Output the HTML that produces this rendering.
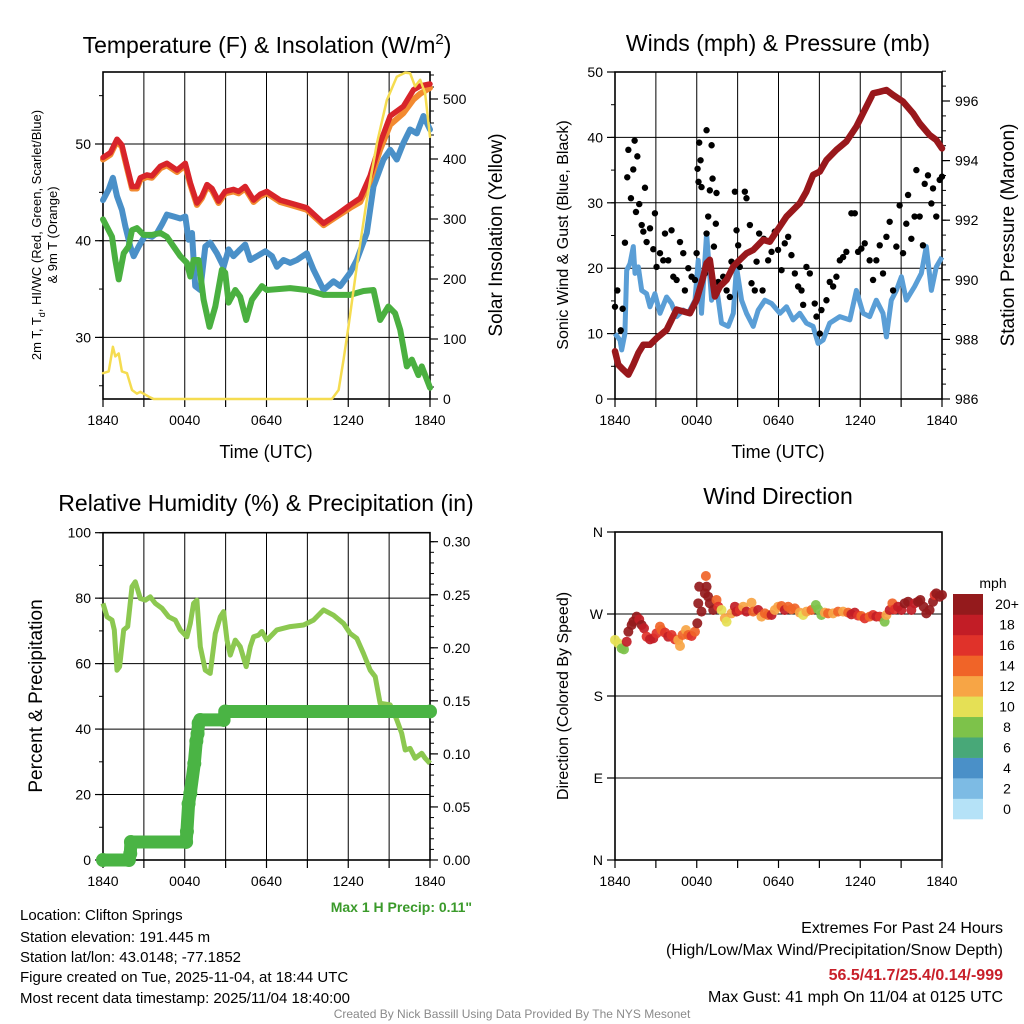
<!DOCTYPE html>
<html><head><meta charset="utf-8"><style>
html,body{margin:0;padding:0;background:#fff;}
svg{display:block;font-family:"Liberation Sans",Arial,sans-serif;}
</style></head><body>
<svg id="fig" width="1024" height="1024" viewBox="0 0 1024 1024" xmlns="http://www.w3.org/2000/svg">
<rect width="1024" height="1024" fill="#fff"/>
<g id="g1"></g>
<g id="g2"></g>
<g id="g3"></g>
<g id="g4"></g>
<g id="txt">
<text x="267" y="53" font-size="23" text-anchor="middle">Temperature (F) &amp; Insolation (W/m<tspan dy="-9" font-size="15">2</tspan><tspan dy="9">)</tspan></text>
<text x="778" y="51" font-size="23" text-anchor="middle">Winds (mph) &amp; Pressure (mb)</text>
<text x="266" y="511" font-size="23" text-anchor="middle">Relative Humidity (%) &amp; Precipitation (in)</text>
<text x="778" y="504" font-size="23" text-anchor="middle">Wind Direction</text>
<text x="266" y="458" font-size="18" text-anchor="middle">Time (UTC)</text>
<text x="778" y="458" font-size="18" text-anchor="middle">Time (UTC)</text>
<text transform="translate(41,235) rotate(-90)" font-size="13" text-anchor="middle">2m T, T<tspan dy="4" font-size="9">d</tspan><tspan dy="-4">, HI/WC (Red, Green, Scarlet/Blue)</tspan></text>
<text transform="translate(57,235) rotate(-90)" font-size="13" text-anchor="middle">&amp; 9m T (Orange)</text>
<text transform="translate(502,235) rotate(-90)" font-size="19" text-anchor="middle">Solar Insolation (Yellow)</text>
<text transform="translate(568,235) rotate(-90)" font-size="16" text-anchor="middle">Sonic Wind &amp; Gust (Blue, Black)</text>
<text transform="translate(1014,235) rotate(-90)" font-size="19" text-anchor="middle">Station Pressure (Maroon)</text>
<text transform="translate(42,696) rotate(-90)" font-size="19" text-anchor="middle">Percent &amp; Precipitation</text>
<text transform="translate(568,696) rotate(-90)" font-size="16" text-anchor="middle">Direction (Colored By Speed)</text>
<text x="472" y="912" font-size="14" font-weight="bold" fill="#3a9a2a" text-anchor="end">Max 1 H Precip: 0.11"</text>
<text x="993" y="588" font-size="14" text-anchor="middle">mph</text>
<g font-size="15">
<text x="20" y="920">Location: Clifton Springs</text>
<text x="20" y="942">Station elevation: 191.445 m</text>
<text x="20" y="962">Station lat/lon: 43.0148; -77.1852</text>
<text x="20" y="982">Figure created on Tue, 2025-11-04, at 18:44 UTC</text>
<text x="20" y="1003">Most recent data timestamp: 2025/11/04 18:40:00</text>
</g>
<g font-size="16" text-anchor="end">
<text x="1003" y="933">Extremes For Past 24 Hours</text>
<text x="1003" y="955">(High/Low/Max Wind/Precipitation/Snow Depth)</text>
<text x="1003" y="980" fill="#c8202a" font-weight="bold">56.5/41.7/25.4/0.14/-999</text>
<text x="1003" y="1002">Max Gust: 41 mph On 11/04 at 0125 UTC</text>
</g>
<text x="512" y="1018" font-size="12" fill="#8a8a8a" text-anchor="middle">Created By Nick Bassill Using Data Provided By The NYS Mesonet</text>
</g>
</svg>
<script>
// ---- Data (hours since 1840 UTC) ----
const xTickLabels = ["1840","0040","0640","1240","1840"];
const tempHours = [0,.54,1.03,1.39,1.76,2.13,2.49,2.74,3.23,3.59,4.21,4.69,5.43,6.04,6.41,6.89,7.26,7.63,8.0,8.48,8.97,9.58,9.95,10.44,11.05,11.54,12.03,13.0,13.74,14.96,16.19,17.16,18.14,18.88,19.6,20.34,21.08,22.05,22.79,23.28,24];
const tempValues = [48.6,49.1,50.5,49.9,47.7,45.6,45.6,46.5,46.8,46.7,47.7,48.0,47.3,48.0,46.0,43.9,44.6,45.8,45.4,44.1,45.1,45.3,45.1,45.6,44.2,44.8,45.1,44.2,43.9,43.4,41.8,42.7,43.7,44.4,46.7,50.1,52.9,53.9,55.6,56.0,56.2];
const temp9mValues = [48.4,48.9,50.3,49.7,47.5,45.4,45.4,46.3,46.6,46.5,47.5,47.8,47.1,47.8,45.8,43.7,44.4,45.6,45.2,43.9,44.9,45.1,44.9,45.4,44.0,44.6,44.9,44.0,43.7,43.2,41.6,42.5,43.4,44.0,46.2,49.4,52.0,53.2,54.6,55.2,55.8];
const wcHours = [0,.42,.73,1.03,1.39,1.64,2.0,2.25,2.62,3.11,3.59,3.96,4.33,4.69,5.18,5.67,6.04,6.28,6.53,6.77,7.14,7.51,7.87,8.36,8.85,9.22,9.58,10.07,10.44,10.81,11.3,11.91,12.4,12.76,13.25,13.74,14.23,14.96,15.45,16.19,16.92,17.41,18.14,18.63,19.36,19.85,20.59,21.08,21.56,22.05,22.54,23.03,23.52,24];
const wcValues = [44.2,45.3,46.5,44.6,43.2,41.5,39.4,38.4,39.4,40.6,40.4,40.8,41.7,42.7,42.5,42.3,42.5,40.1,40.8,35.3,34.9,39.4,39.8,38.7,37.3,39.1,38.4,39.1,39.6,38.0,38.4,38.9,38.4,37.3,38.0,37.7,38.0,38.7,37.0,34.9,35.8,35.3,36.7,38.0,40.8,45.6,48.4,49.4,48.4,50.1,51.5,51.1,52.9,51.5];
const dewHours = [0,.66,.9,1.15,1.52,1.88,2.13,2.49,2.98,3.59,4.21,4.69,5.18,5.67,6.16,6.41,6.65,7.02,7.38,7.82,8.24,8.73,8.97,9.22,9.71,10.07,10.51,10.93,11.66,12.03,13.74,14.96,16.19,18.14,19.12,19.85,20.34,20.95,21.44,21.81,22.3,22.67,23.15,23.4,24];
const dewValues = [42.2,40.4,38.0,36.0,38.7,39.4,41.1,41.3,40.6,40.6,40.8,40.4,39.4,38.4,37.7,36.3,38.0,38.0,33.9,31.1,33.2,37.0,36.7,33.6,34.9,34.2,31.8,33.9,35.3,34.9,35.1,34.9,34.4,34.4,34.8,34.9,31.8,33.2,32.5,30.8,27.0,27.7,26.1,27.0,24.8];
const solarHours = [0,.42,.73,.9,1.15,1.39,1.76,2.13,2.49,2.74,3.35,3.72,16.8,17.29,17.65,18.02,18.63,19.36,20.1,20.83,21.56,22.18,22.54,22.91,23.28,23.64,24];
const solarValues = [43,46,87,71,76,46,43,15,9,12,4,0,0,15,65,121,221,332,426,498,537,544,543,521,532,510,437];
const tempTicks = [30,40,50];
const solarTicks = [0,100,200,300,400,500];

const windHours = [0,.37,.49,.73,.86,1.1,1.34,1.47,1.71,1.96,2.32,2.57,2.93,3.3,3.79,4.15,4.52,5.01,5.38,5.87,6.11,6.35,6.72,7.09,7.45,7.82,8.31,8.68,8.92,9.29,9.65,10.14,10.51,11.0,11.49,12.1,12.59,13.07,13.56,14.05,14.54,14.91,15.27,15.76,16.5,17.23,17.72,18.21,18.69,19.18,19.67,19.92,20.28,20.65,21.02,21.38,21.99,22.48,22.85,23.22,23.58,24];
const windValues = [10.0,9.0,7.5,10.0,19.7,20.7,23.3,19.2,20.2,16.6,16.1,14.1,16.1,13.1,15.6,14.6,12.6,13.6,13.1,15.1,21.2,13.1,25.3,15.1,17.2,11.6,11.1,13.1,20.2,15.1,13.1,11.1,13.6,15.1,14.6,13.1,14.1,12.1,13.1,11.6,11.1,8.5,9.0,11.6,12.6,12.1,16.6,13.1,12.6,15.1,13.1,9.5,15.1,16.6,18.7,15.1,17.2,19.2,23.3,16.6,20.2,21.7];
const gustHours = [0,.17,.42,.56,.73,.9,.98,1.17,1.34,1.44,1.54,1.64,1.78,1.96,2.08,2.2,2.32,2.57,2.81,2.93,3.05,3.3,3.54,3.67,3.91,4.15,4.28,4.52,4.77,5.01,5.13,5.38,5.62,5.87,5.99,6.06,6.13,6.18,6.28,6.35,6.6,6.72,6.72,6.84,6.96,7.09,7.16,7.26,7.4,7.45,7.58,7.94,8.19,8.43,8.55,8.8,8.92,9.04,9.16,9.53,9.65,9.9,10.02,10.26,10.39,10.58,10.83,10.92,11.24,11.49,11.73,11.97,12.22,12.46,12.71,12.95,13.2,13.44,13.69,13.81,14.05,14.3,14.66,14.79,15.03,15.15,15.52,15.76,16.01,16.25,16.5,16.74,16.98,17.35,17.6,17.84,18.08,18.33,18.69,18.94,19.18,19.43,19.67,19.92,20.16,20.41,20.65,20.89,21.14,21.38,21.51,21.75,21.99,22.12,22.36,22.6,22.73,22.97,23.22,23.34,23.58,23.83,24];
const gustValues = [14.1,16.6,10.5,13.8,23.9,33.9,38.1,30.7,35.1,39.5,28.6,37.1,29.8,26.6,25.6,32.3,24.0,26.1,22.9,28.4,20.2,22.3,21.2,25.3,21.2,25.8,18.7,18.2,24.0,22.3,16.6,20.0,18.7,18.2,22.3,35.2,33.2,39.2,36.5,32.4,19.2,41.1,25.3,27.9,31.9,38.8,33.7,23.3,26.8,31.5,17.9,18.7,16.6,15.6,21.0,31.7,25.8,23.5,20.2,31.7,30.7,26.6,17.7,16.6,21.0,25.3,16.6,24.5,21.2,22.5,25.6,22.8,19.7,23.8,24.8,22.0,19.2,17.2,16.6,14.4,20.2,19.2,14.6,12.6,10.0,13.6,15.1,17.9,17.2,18.7,21.2,21.7,22.5,28.4,28.4,22.5,23.0,23.8,21.2,18.2,21.2,23.5,19.2,24.8,27.1,16.6,23.3,29.6,22.3,26.8,31.2,24.5,27.9,35.0,27.9,23.5,32.9,34.2,29.9,32.2,27.9,33.5,34.0];
const presHours = [0,.24,.61,.98,1.34,1.71,2.08,2.57,3.05,3.79,4.52,5.5,5.99,6.48,6.72,6.96,7.33,7.7,8.19,8.68,9.16,9.65,10.14,10.87,11.36,11.85,12.59,13.56,14.05,14.54,15.03,15.52,16.25,16.98,17.72,18.21,18.94,19.43,19.92,20.41,21.14,21.87,22.36,23.09,23.58,24];
const presValues = [987.6,987.15,986.98,986.82,987.15,987.54,987.82,987.82,988.04,988.32,989.0,988.88,989.33,990.11,990.56,990.67,989.44,989.78,990.0,990.45,990.67,990.89,991.0,991.34,991.28,991.62,992.12,992.57,992.96,993.52,993.63,994.02,994.36,994.64,995.14,995.59,996.26,996.31,996.37,996.2,995.98,995.59,995.25,994.86,994.69,994.41];
const windTicks = [0,10,20,30,40,50];
const presTicks = [986,988,990,992,994,996];

const rhHours = [0,.29,.66,.83,1.03,1.22,1.52,1.81,2.13,2.37,2.74,3.11,3.47,3.84,4.33,4.82,5.31,5.67,6.16,6.41,6.65,6.89,7.14,7.51,7.87,8.24,8.61,8.85,9.1,9.34,9.71,10.07,10.51,10.81,11.05,11.42,11.66,12.03,12.76,13.74,14.72,15.45,16.19,16.92,17.65,18.14,18.63,19.12,19.61,19.98,20.34,21.08,21.56,21.92,22.18,22.54,22.91,23.4,23.64,24];
const rhValues = [78.4,74.3,73.3,70.3,58.0,59.1,70.3,71.3,83.5,85.0,79.9,79.4,80.4,78.4,76.9,74.3,73.3,70.3,68.2,72.3,78.4,79.4,65.2,58.0,57.0,69.2,74.3,75.9,67.2,62.6,67.2,65.2,59.1,65.2,68.2,68.7,69.8,67.2,70.3,71.3,71.8,73.3,76.4,74.8,72.3,69.2,67.7,63.1,58.0,56.0,47.9,47.4,42.8,38.7,33.6,34.1,31.1,32.6,31.1,29.5];
const precipHours = [0,1.9,2.0,2.05,6.1,6.16,6.28,6.41,6.7,6.85,6.94,7.02,7.14,8.85,8.97,24];
const precipValues = [0,0,.006,.017,.017,.027,.053,.063,.091,.112,.119,.129,.132,.132,.14,.14];
const rhTicks = [0,20,40,60,80,100];
const precipTicks = ["0.00","0.05","0.10","0.15","0.20","0.25","0.30"];

const dirHours = [0,.24,.49,.66,.86,.98,1.22,1.34,1.59,1.78,1.96,2.13,2.32,2.57,2.81,3.05,3.3,3.42,3.67,3.91,4.15,4.4,4.64,4.77,4.96,5.21,5.38,5.62,5.87,6.04,6.11,6.18,6.35,6.6,6.72,6.67,6.84,6.96,7.21,7.45,7.58,7.82,8.06,8.19,8.55,8.8,8.92,9.16,9.41,9.65,10.02,10.14,10.51,10.75,11.0,11.24,11.49,11.73,11.97,12.22,12.46,12.71,12.95,13.2,13.56,13.81,14.05,14.42,14.74,14.91,15.15,15.4,15.64,16.01,16.37,16.74,17.11,17.35,17.6,17.84,18.08,18.33,18.69,18.94,19.18,19.43,19.79,19.92,20.16,20.36,20.53,20.77,21.02,21.26,21.51,21.75,21.99,22.24,22.41,22.65,22.85,23.09,23.34,23.46,23.58,23.83,24];
const dirValues = [241.5,237.8,232.3,231.2,239.6,250.6,257.9,261.6,267.1,264.1,257.9,254.3,245.1,242.2,243.3,248.8,256.1,252.4,249.5,245.1,247.0,242.2,241.5,234.9,247.0,252.4,247.0,245.9,250.6,259.8,281.7,300.0,272.6,292.7,300.0,311.7,289.0,281.7,274.4,285.4,278.0,274.4,265.2,261.6,270.7,278.0,272.6,274.4,278.0,272.6,282.4,272.6,274.4,267.1,270.7,268.9,268.9,274.4,278.0,278.8,274.4,278.0,275.1,276.2,271.5,268.9,272.6,274.4,279.9,275.1,268.9,271.5,270.7,270.7,272.6,272.6,271.5,269.6,271.5,268.2,267.8,265.2,267.1,268.9,267.1,267.1,261.6,268.9,274.4,281.7,275.1,278.0,274.4,281.7,283.5,274.4,281.7,283.5,285.4,278.0,270.7,274.4,283.5,290.9,292.7,289.0,290.9];
const dirSpeeds = [10,10,8,8,18,20,20,20,20,18,20,18,16,18,18,16,14,14,16,18,16,16,12,12,14,12,14,16,14,20,20,20,20,20,20,14,20,20,20,14,16,10,12,10,12,18,18,16,12,18,12,14,18,12,14,14,18,12,12,14,18,14,14,14,12,10,12,14,8,8,8,12,14,12,14,12,14,18,18,16,14,16,14,16,18,16,8,12,18,14,16,18,18,20,20,18,18,20,20,20,20,20,20,16,20,20,20];
const dirTickLabels = ["N","E","S","W","N"];
const speedBins = [0,2,4,6,8,10,12,14,16,18,20];
const speedBinLabels = ["0","2","4","6","8","10","12","14","16","18","20+"];
const speedColors = ["#b5e2f7","#7dbbe4","#4a90c8","#48a878","#7dc24a","#e5e055","#f7a545","#f06428","#e0322a","#c21d26","#941a1c"];

// ---- helpers ----
const NS = "http://www.w3.org/2000/svg";
function mk(parent, tag, attrs) {
  const e = document.createElementNS(NS, tag);
  for (const k in attrs) e.setAttribute(k, attrs[k]);
  parent.appendChild(e);
  return e;
}
function linear(d0, d1, r0, r1) { return v => r0 + (v - d0) * (r1 - r0) / (d1 - d0); }
function pathFrom(xs, ys, fx, fy) {
  return xs.map((h, i) => (i ? "L" : "M") + fx(h).toFixed(1) + "," + fy(ys[i]).toFixed(1)).join("");
}
function drawFrame(g, x0, x1, y0, y1, withVGrid) {
  const fr = mk(g, "rect", {x: x0, y: y0, width: x1 - x0, height: y1 - y0, fill: "none", stroke: "#000", "stroke-width": 1.6});
  
  
  if (withVGrid) {
    for (let i = 1; i < 8; i++) {
      const x = x0 + (x1 - x0) * i / 8;
      const l = mk(g, "line", {x1: x, x2: x, y1: y0, y2: y1, stroke: "#000", "stroke-width": 1});
      
      
    }
  }
  for (let i = 0; i <= 8; i++) {
    const x = x0 + (x1 - x0) * i / 8;
    const t = mk(g, "line", {x1: x, x2: x, y1: y1, y2: y1 + 8, stroke: "#000", "stroke-width": 1.2});
    
    
  }
  xTickLabels.forEach((lab, i) => {
    const tx = mk(g, "text", {x: x0 + (x1 - x0) * i / 4, y: y1 + 26, "font-size": 14, "text-anchor": "middle"});
    tx.textContent = lab;
    
    
  });
}
function leftTicks(g, x0, x1, ticks, fy, labels, grid, minorStep, lo, hi) {
  if (minorStep) for (let v = lo; v <= hi + 1e-9; v += minorStep) {
    const m = mk(g, "line", {x1: x0 - 4, x2: x0, y1: fy(v), y2: fy(v), stroke: "#000", "stroke-width": 1});
    
    
  }
  ticks.forEach((v, i) => {
    const y = fy(v);
    if (grid) {
      const gl = mk(g, "line", {x1: x0, x2: x1, y1: y, y2: y, stroke: "#000", "stroke-width": 1});
      
      
    }
    const t = mk(g, "line", {x1: x0 - 8, x2: x0, y1: y, y2: y, stroke: "#000", "stroke-width": 1.2});
    
    
    const tx = mk(g, "text", {x: x0 - 12, y: y + 5, "font-size": 14, "text-anchor": "end"});
    tx.textContent = labels[i];
    
    
  });
}
function rightTicks(g, x1, ticks, fy, labels, minorStep, lo, hi) {
  if (minorStep) for (let v = lo; v <= hi + 1e-9; v += minorStep) {
    const m = mk(g, "line", {x1: x1, x2: x1 + 4, y1: fy(v), y2: fy(v), stroke: "#000", "stroke-width": 1});
    
    
  }
  ticks.forEach((v, i) => {
    const y = fy(v);
    const t = mk(g, "line", {x1: x1, x2: x1 + 8, y1: y, y2: y, stroke: "#000", "stroke-width": 1.2});
    
    
    const tx = mk(g, "text", {x: x1 + 13, y: y + 5, "font-size": 14, "text-anchor": "start"});
    tx.textContent = labels[i];
    
    
  });
}

// ---- Panel 1 ----
(function () {
  const g = document.getElementById("g1");
  const x = linear(0, 24, 103, 430), yT = linear(50, 40, 144, 240.7), yS = linear(0, 500, 399, 99);
  leftTicks(g, 103, 430, tempTicks, yT, tempTicks, true, 5, 25, 55);
  rightTicks(g, 430, solarTicks, yS, solarTicks, 20, 0, 540);
  drawFrame(g, 103, 430, 72, 399, true);
  const series = [
    [wcHours, wcValues, "#4a90c8", 'wind-chill-line', yT, 6],
    [dewHours, dewValues, "#4ab040", 'dewpoint-line', yT, 6],
    [tempHours, temp9mValues, "#f28a30", 'temp-9m-line', yT, 6],
    [tempHours, tempValues, "#d8242a", 'temp-2m-line', yT, 5.5],
    [solarHours, solarValues, "#f5dc50", 'solar-line', yS, 2.5]
  ];
  series.forEach(s => {
    const p = mk(g, "path", {d: pathFrom(s[0], s[1], x, s[4]), fill: "none", stroke: s[2], "stroke-width": s[5], "stroke-linejoin": "round", "stroke-linecap": "round"});
    
    
  });
})();

// ---- Panel 2 ----
(function () {
  const g = document.getElementById("g2");
  const x = linear(0, 24, 615, 942), yW = linear(0, 50, 399, 72), yP = linear(986, 996, 399, 101);
  leftTicks(g, 615, 942, windTicks, yW, windTicks, true, 5, 0, 50);
  rightTicks(g, 942, presTicks, yP, presTicks, 0.5, 986, 997);
  drawFrame(g, 615, 942, 72, 399, true);
  const wl = mk(g, "path", {d: pathFrom(windHours, windValues, x, yW), fill: "none", stroke: "#5a9ed6", "stroke-width": 5, "stroke-linejoin": "round"});
  
  
  gustHours.forEach((h, i) => {
    const c = mk(g, "circle", {cx: x(h), cy: yW(gustValues[i]), r: 3.2, fill: "#000"});
    
    
  });
  const pl = mk(g, "path", {d: pathFrom(presHours, presValues, x, yP), fill: "none", stroke: "#99181c", "stroke-width": 6.5, "stroke-linejoin": "round", "stroke-linecap": "round"});
  
  
})();

// ---- Panel 3 ----
(function () {
  const g = document.getElementById("g3");
  const x = linear(0, 24, 103, 430), yR = linear(0, 100, 860, 532.7), yP = linear(0, 0.3, 860, 541.7);
  leftTicks(g, 103, 430, rhTicks, yR, rhTicks, true, 10, 0, 100);
  rightTicks(g, 430, precipTicks.map(Number), yP, precipTicks, 0.01, 0, 0.3);
  drawFrame(g, 103, 430, 532.7, 860, true);
  const rl = mk(g, "path", {d: pathFrom(rhHours, rhValues, x, yR), fill: "none", stroke: "#8cc850", "stroke-width": 5, "stroke-linejoin": "round"});
  
  
  const pp = mk(g, "path", {d: pathFrom(precipHours, precipValues, x, yP), fill: "none", stroke: "#4ab444", "stroke-width": 13, "stroke-linejoin": "round", "stroke-linecap": "round"});
  
  
  precipHours.forEach((h, i) => {
    const c = mk(g, "circle", {cx: x(h), cy: yP(precipValues[i]), r: 7, fill: "#4ab444"});
    
    
  });
})();

// ---- Panel 4 ----
(function () {
  const g = document.getElementById("g4");
  const x = linear(0, 24, 615, 942), yD = linear(0, 360, 860, 532);
  leftTicks(g, 615, 942, [0, 90, 180, 270, 360], yD, dirTickLabels, true, 0, 0, 0);
  drawFrame(g, 615, 942, 532, 860, false);
  dirHours.forEach((h, i) => {
    let bi = 0;
    speedBins.forEach((b, j) => { if (dirSpeeds[i] >= b) bi = j; });
    const c = mk(g, "circle", {cx: x(h), cy: yD(dirValues[i]), r: 5, fill: speedColors[bi], "fill-opacity": 0.92});
    
    
  });
  const n = speedColors.length, top = 594, bh = 225 / n;
  speedColors.forEach((col, j) => {
    const k = n - 1 - j;
    const r = mk(g, "rect", {x: 953, y: top + k * bh, width: 30, height: bh + 0.3, fill: col});
    
    
    const t = mk(g, "text", {x: 1007, y: top + k * bh + bh / 2 + 5, "font-size": 14, "text-anchor": "middle"});
    t.textContent = speedBinLabels[j];
    
    
  });
})();
</script>
</body></html>
